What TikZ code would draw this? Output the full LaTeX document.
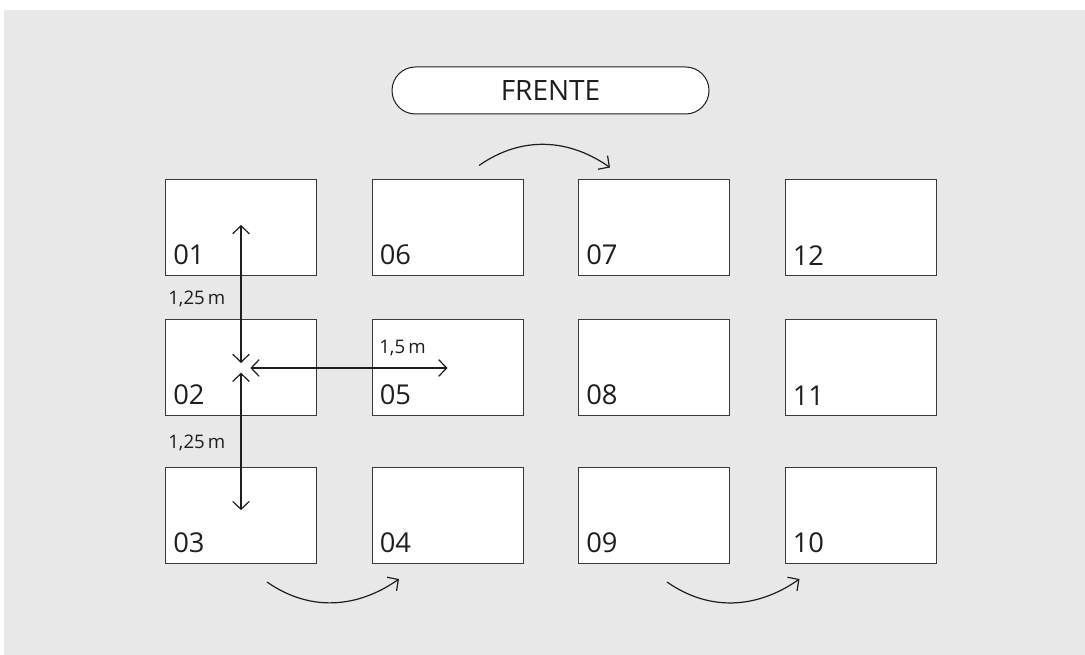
\documentclass[tikz,border=0pt]{standalone}
\usepackage{fontspec}
\setmainfont{Open Sans}
\usetikzlibrary{arrows.meta}
\definecolor{fondo}{HTML}{E8E8E8}
\definecolor{borde}{HTML}{3A3A3A}
\definecolor{tinta}{HTML}{1E1E1E}

\begin{document}
\begin{tikzpicture}[x=0.75pt,y=-0.75pt,
  mesa/.style={draw=borde, line width=0.75pt, fill=white, minimum width=113.25pt, minimum height=72pt, inner sep=0pt},
  num/.style={anchor=south west, inner sep=0pt, xshift=6pt, yshift=8.25pt, font=\fontsize{20.5}{24}\selectfont, text=tinta},
  frente/.style={draw=tinta, line width=0.75pt, fill=white, rounded corners=17.6pt, minimum width=237.75pt, minimum height=35.25pt, font=\fontsize{21}{24}\selectfont, text=tinta},
  medida/.style={anchor=west, inner sep=0pt, font=\fontsize{14}{16}\selectfont, text=tinta},
  cota/.style={draw=tinta, line width=0.9pt, {Straight Barb[length=6pt,width=12.5pt]}-{Straight Barb[length=6pt,width=12.5pt]}},
  giro/.style={draw=tinta, line width=0.9pt, -{Straight Barb[length=6pt,width=12.5pt]}}]

  % fondo
  \fill[white] (0,0) rectangle (1085,655);
  \fill[fondo] (4,10) rectangle (1085,655);

  % frente
  \node[frente] (frente) at (550.5,90.5) {FRENTE};

  % mesas, fila 1
  \node[mesa, label={[num]south west:01}] (m01) at (241,228) {};
  \node[mesa, label={[num]south west:06}] (m06) at (447.5,228) {};
  \node[mesa, label={[num]south west:07}] (m07) at (654,228) {};
  \node[mesa, label={[num]south west:12}] (m12) at (860.5,228) {};
  % fila 2
  \node[mesa, label={[num]south west:02}] (m02) at (241,368) {};
  \node[mesa, label={[num]south west:05}] (m05) at (447.5,368) {};
  \node[mesa, label={[num]south west:08}] (m08) at (654,368) {};
  \node[mesa, label={[num]south west:11}] (m11) at (860.5,368) {};
  % fila 3
  \node[mesa, label={[num]south west:03}] (m03) at (241,515.5) {};
  \node[mesa, label={[num]south west:04}] (m04) at (447.5,515.5) {};
  \node[mesa, label={[num]south west:09}] (m09) at (654,515.5) {};
  \node[mesa, label={[num]south west:10}] (m10) at (860.5,515.5) {};

  % distancias
  \draw[cota] ([yshift=3.75pt]m02.center) -- ([yshift=2.25pt]m01.center);
  \draw[cota] ([yshift=-3.5pt]m02.center) -- ([yshift=4pt]m03.center);
  \draw[cota] ([xshift=7pt]m02.center) -- (m05.center);

  \node[medida] (d12) at (168,299) {1,25\,m};
  \node[medida] (d23) at (168,443) {1,25\,m};
  \node[medida] (d25) at (379,348) {1,5\,m};

  % recorrido
  \coordinate (g1a) at ([shift={(31.5,-14)}]m06.north);
  \coordinate (g1b) at ([shift={(-44,-12)}]m07.north);
  \coordinate (g2a) at ([shift={(26,18)}]m03.south);
  \coordinate (g2b) at ([shift={(-48.5,15)}]m04.south);
  \coordinate (g3a) at ([shift={(13,18)}]m09.south);
  \coordinate (g3b) at ([shift={(-61,15)}]m10.south);
  \draw[giro] (g1a) to[out=35, in=145] (g1b);
  \draw[giro] (g2a) to[out=-35, in=-145] (g2b);
  \draw[giro] (g3a) to[out=-35, in=-145] (g3b);
\end{tikzpicture}
\end{document}
